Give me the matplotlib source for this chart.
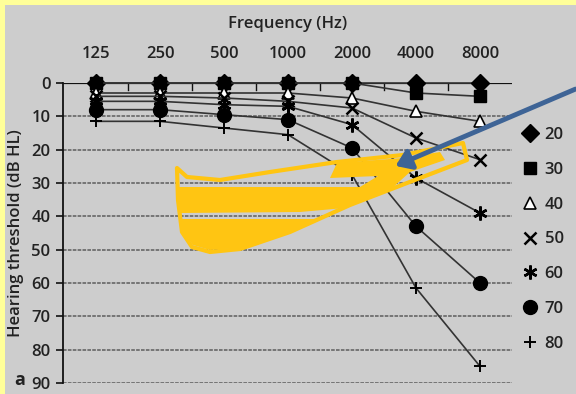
import matplotlib
matplotlib.use("Agg")
import matplotlib.pyplot as plt
from matplotlib.patches import Polygon, FancyArrowPatch, Rectangle
from matplotlib.lines import Line2D

plt.rcParams['font.family'] = ['Open Sans', 'DejaVu Sans']
plt.rcParams['font.weight'] = 'semibold'

# ---- data ----
freqs = ["125", "250", "500", "1000", "2000", "4000", "8000"]
ages = ["20", "30", "40", "50", "60", "70", "80"]
age20 = [0, 0, 0, 0, 0, 0, 0]
age30 = [0, 0, 0, 0, 0, 3, 4]
age40 = [3, 3, 3, 3, 4.5, 8.5, 11.5]
age50 = [4, 4, 4.5, 5.5, 7.5, 16.5, 23]
age60 = [5.5, 5.5, 6.5, 7, 12.5, 28.5, 39]
age70 = [8, 8, 9.5, 11, 19.5, 43, 60]
age80 = [11.5, 11.5, 13.5, 15.5, 27.5, 61.5, 85]
series = [age20, age30, age40, age50, age60, age70, age80]
yticks = [0, 10, 20, 30, 40, 50, 60, 70, 80, 90]

W, H = 576, 394
fig = plt.figure(figsize=(W / 100, H / 100), dpi=100)
fig.patch.set_facecolor('#FFFF99')

def px(x, y):
    return (x / W, 1 - y / H)

# grey panel
fig.patches.append(Rectangle(px(5, 394), (W - 5) / W, (394 - 5) / H,
                             transform=fig.transFigure, facecolor='#CDCDCD',
                             edgecolor='none', zorder=-10))

L, R, T, B = 63, 512, 83, 383
ax = fig.add_axes([L / W, 1 - B / H, (R - L) / W, (B - T) / H])
ax.set_facecolor('none')

xs = list(range(len(freqs)))
ax.set_xlim(-0.516, 6.5)
ax.set_ylim(90, 0)

# grid lines
for v in yticks[1:]:
    ax.axhline(v, color='#6e6e6e', lw=1.3, ls=(0, (2, 0.7)), zorder=1)
ax.axhline(0, color='#111111', lw=1.6, zorder=2)

# half-octave minor ticks on the 0 line
for i in range(len(freqs) - 1):
    ax.plot([i + 0.5, i + 0.5], [0, 2.0], color='#111111', lw=1.0, zorder=2)

markers = [
    dict(marker='D', ms=9, mfc='black', mec='black'),
    dict(marker='s', ms=8.5, mfc='black', mec='black'),
    dict(marker='^', ms=9, mfc='white', mec='black', mew=1.2),
    dict(marker='x', ms=8, mfc='black', mec='black', mew=1.8),
    dict(marker=(6, 2, 0), ms=10, mfc='black', mec='black', mew=1.8),
    dict(marker='o', ms=10, mfc='black', mec='black'),
    dict(marker='+', ms=8, mfc='black', mec='black', mew=1.4),
]

handles = []
for k in range(len(series) - 1, -1, -1):
    ax.plot(xs, series[k], color='#333333', lw=1.2, clip_on=False,
            zorder=3 + k, **markers[k])
for k in range(len(series)):
    handles.append(Line2D([], [], ls='none', **markers[k]))

fs = 12
# axes styling
for s in ['right', 'bottom', 'top']:
    ax.spines[s].set_visible(False)
ax.spines['left'].set_color('#111111')
ax.spines['left'].set_linewidth(1.3)
ax.set_yticks(yticks)
ax.set_yticklabels([str(v) for v in yticks])
ax.tick_params(axis='y', length=5, width=1.2, pad=4, labelsize=fs,
               labelcolor='#222222', color='#111111')
ax.xaxis.set_ticks_position('top')
ax.xaxis.set_label_position('top')
ax.set_xticks(xs)
ax.set_xticklabels(freqs)
ax.tick_params(axis='x', length=0, pad=15, labelsize=fs, labelcolor='#222222')
ax.set_xlabel('Frequency (Hz)', fontsize=fs, color='#222222', labelpad=13,
              fontweight='semibold')
ax.set_ylabel('Hearing threshold (dB HL)', fontsize=fs, color='#222222', labelpad=5,
              fontweight='semibold')

leg = ax.legend(handles, ages, loc='upper left', bbox_to_anchor=px(507, 112),
                bbox_transform=fig.transFigure, frameon=False, fontsize=fs,
                handlelength=1.0, handletextpad=0.35, labelspacing=1.13,
                labelcolor='#222222')

fig.text(*px(20, 380), 'a', fontsize=13, fontweight='bold', color='#222222',
         ha='center', va='center')

# yellow hand-drawn highlight
gold = '#FFC512'
outline = [(177, 168), (178, 200), (182, 232), (192, 247), (210, 252), (240, 249),
           (290, 232), (350, 205), (420, 178), (467, 160), (463, 143), (403, 155),
           (337, 162), (270, 172), (220, 180), (187, 177)]
fig.patches.append(Polygon([px(x, y) for x, y in outline], closed=True,
                           transform=fig.transFigure, fill=False, edgecolor=gold,
                           lw=3, joinstyle='round', zorder=20))
fill1 = [(179, 187), (360, 187), (378, 176), (330, 178), (337, 163), (403, 158),
         (440, 152), (445, 160), (410, 172), (390, 190), (345, 208), (300, 212),
         (180, 213)]
fill2 = [(180, 219), (320, 219), (290, 232), (240, 248), (210, 250), (193, 245),
         (183, 232)]
for poly in (fill1, fill2):
    fig.patches.append(Polygon([px(x, y) for x, y in poly], closed=True,
                               transform=fig.transFigure, facecolor=gold,
                               edgecolor='none', zorder=19))

# blue arrow
arrow = FancyArrowPatch(px(578, 88), px(393, 167), transform=fig.transFigure,
                        arrowstyle='-|>,head_length=5,head_width=3.5', color='#3E6496',
                        lw=3.5, zorder=25, mutation_scale=1.8)
fig.patches.append(arrow)

fig.savefig('out.png', dpi=100, facecolor=fig.get_facecolor())
